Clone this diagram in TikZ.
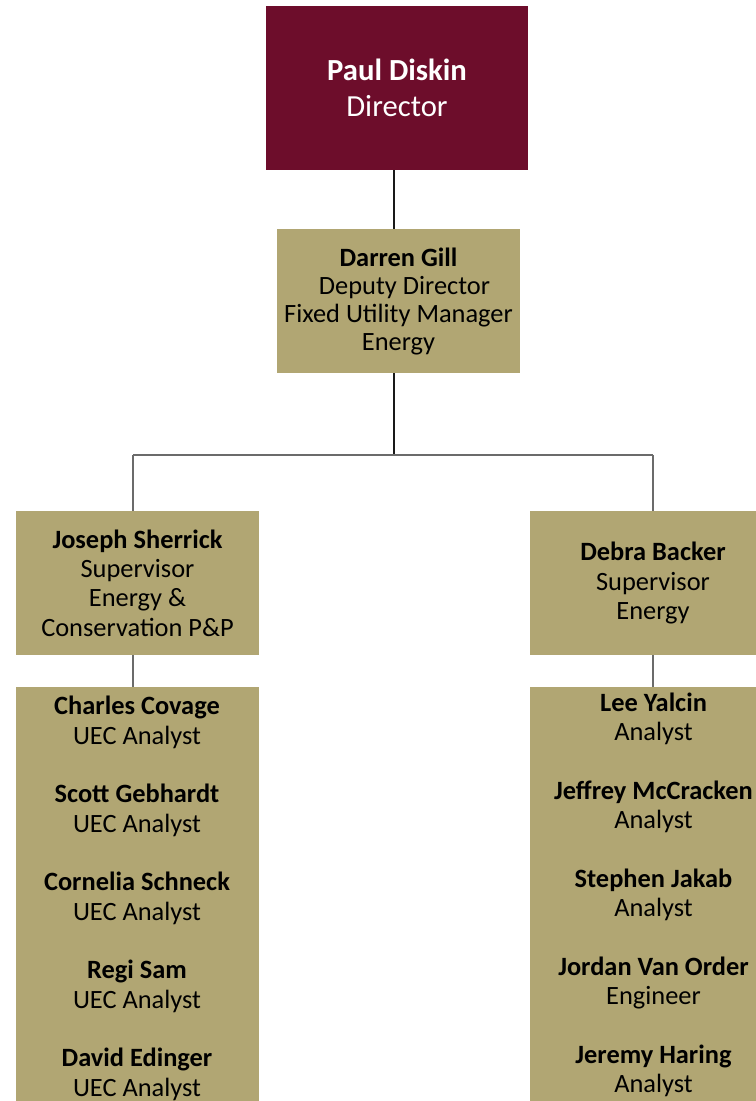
\documentclass[tikz,border=0pt]{standalone}
\usepackage{fontspec}
\setmainfont{Carlito}
\definecolor{maroon}{HTML}{6D0D2B}
\definecolor{khaki}{HTML}{B1A673}
\definecolor{linkgray}{HTML}{6B6B6B}

\begin{document}
\begin{tikzpicture}[
  x=0.75pt, y=-0.75pt,
  % Common node style
  every node/.style={align=center, inner sep=0pt},
  % Box styles for the levels
  headbox/.style={fill=maroon, text=white, minimum width=196.5pt, minimum height=123pt,
    font=\fontsize{23}{27.4}\selectfont},
  deputybox/.style={fill=khaki, minimum width=182.25pt, minimum height=108pt,
    font=\fontsize{19.8}{21}\selectfont},
  supbox/.style={fill=khaki, minimum width=182.25pt, minimum height=108pt,
    font=\fontsize{19.8}{22}\selectfont},
  listbox/.style={fill=khaki, anchor=north, minimum width=182.25pt, minimum height=337.5pt},
  entry/.style={font=\fontsize{19.8}{22}\selectfont},
  % Connector styles
  trunk/.style={draw=black!90, line width=0.8pt},
  branch/.style={draw=linkgray, line width=1pt}
]

  \useasboundingbox (0,0) rectangle (756,1101);
  \clip (0,0) rectangle (756,1101);

  % Top of the chart
  \node[headbox] (diskin) at (397,88) {\textbf{Paul Diskin}\\Director};
  \node[deputybox] (gill) at (398.5,301)
    {\textbf{Darren Gill}\\\hspace*{9pt}Deputy Director\\Fixed Utility Manager\\Energy};

  % Supervisors
  \node[supbox] (sherrick) at (137.5,583)
    {\textbf{Joseph Sherrick}\\Supervisor\\Energy \&\\Conservation P\&P};
  \node[supbox, minimum width=184.5pt] (backer) at (653,583)
    {\textbf{Debra Backer}\\Supervisor\\Energy};

  % Staff lists
  \node[listbox] (leftlist) at (137.5,687) {};
  \node[listbox, minimum width=184.5pt] (rightlist) at (653,687) {};

  \foreach \who/\role [count=\k from 0] in {Charles Covage/UEC Analyst,
      Scott Gebhardt/UEC Analyst, Cornelia Schneck/UEC Analyst,
      Regi Sam/UEC Analyst, David Edinger/UEC Analyst}
    \node[entry] (left\k) at (137,722.5+88*\k) {\textbf{\who}\\\role};

  \foreach \who/\role [count=\k from 0] in {Lee Yalcin/Analyst,
      Jeffrey McCracken/Analyst, Stephen Jakab/Analyst,
      Jordan Van Order/Engineer, Jeremy Haring/Analyst}
    \node[entry] (right\k) at (653.5,719+88*\k) {\textbf{\who}\\\role};

  % Connectors
  \coordinate (hub) at (394,455);
  \coordinate (lbus) at (133,455);
  \coordinate (rbus) at (653,455);
  \draw[trunk] (diskin.south -| hub) -- (gill.north -| hub);
  \draw[trunk] (gill.south -| hub) -- (hub);
  \draw[branch] (lbus) -- (rbus);
  \draw[branch] (lbus) -- (sherrick.north -| lbus);
  \draw[branch] (rbus) -- (backer.north -| rbus);
  \draw[branch] (sherrick.south -| lbus) -- (leftlist.north -| lbus);
  \draw[branch] (backer.south -| rbus) -- (rightlist.north -| rbus);

\end{tikzpicture}
\end{document}
